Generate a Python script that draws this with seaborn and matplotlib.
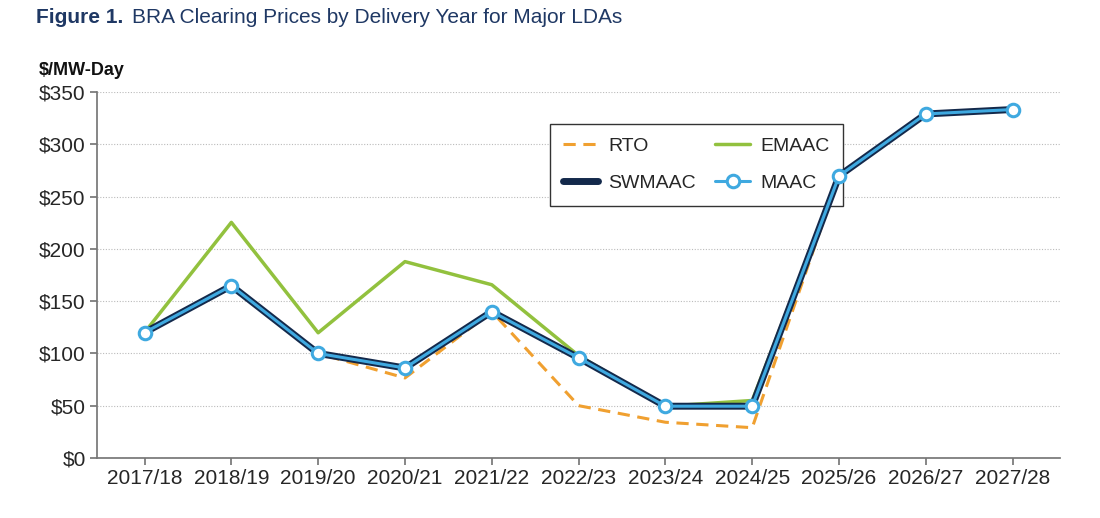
import numpy as np
import pandas as pd
import seaborn as sns
import matplotlib.pyplot as plt

years = ["2017/18", "2018/19", "2019/20", "2020/21", "2021/22", "2022/23",
         "2023/24", "2024/25", "2025/26", "2026/27", "2027/28"]
rto = [120.00, 164.77, 100.00, 76.53, 140.00, 50.00, 34.13, 28.92, 269.92, 329.17, 333.44]
emaac = [120.00, 225.42, 119.77, 187.87, 165.73, 97.86, 49.49, 54.95, 269.92, 329.17, 333.44]
swmaac = [120.00, 164.77, 100.00, 86.04, 140.00, 95.79, 49.49, 49.49, 269.92, 329.17, 333.44]
maac = [120.00, 164.77, 100.00, 86.04, 140.00, 95.79, 49.49, 49.49, 269.92, 329.17, 333.44]

sns.set_theme(style="white")
plt.rcParams['font.family'] = ['Liberation Sans Narrow', 'Liberation Sans', 'DejaVu Sans']

df = pd.DataFrame({"year": years, "RTO": rto, "EMAAC": emaac, "SWMAAC": swmaac, "MAAC": maac})
x = np.arange(len(years))
df["x"] = x

fig = plt.figure(figsize=(11, 5.18), dpi=100)
ax = fig.add_axes([0.088, 0.116, 0.876, 0.706])

sns.lineplot(data=df, x="x", y="RTO", ax=ax, color="#f0a030", lw=2.2, label="RTO")
ax.lines[-1].set_dashes([4, 2.5])
sns.lineplot(data=df, x="x", y="EMAAC", ax=ax, color="#92c13e", lw=2.5, label="EMAAC")
sns.lineplot(data=df, x="x", y="SWMAAC", ax=ax, color="#13294b", lw=5, label="SWMAAC")
sns.lineplot(data=df, x="x", y="MAAC", ax=ax, color="#3fa9e0", lw=2.2, marker="o",
             markersize=9, markerfacecolor="white", markeredgecolor="#3fa9e0",
             markeredgewidth=2.2, label="MAAC")

ax.set_xlim(-0.55, len(years) - 0.45)
ax.set_ylim(0, 350)
ax.set_yticks(range(0, 351, 50))
ax.set_yticklabels([f"${v}" for v in range(0, 351, 50)], fontsize=15)
ax.set_xticks(x)
ax.set_xticklabels(years, fontsize=15)
ax.set_xlabel("")
ax.set_ylabel("")
ax.yaxis.grid(True, linestyle=(0, (1, 1.5)), color="#bbbbbb", lw=0.8)
for s in ["top", "right"]:
    ax.spines[s].set_visible(False)
for s in ["left", "bottom"]:
    ax.spines[s].set_color("#777777")
ax.tick_params(axis="both", which="both", length=5, color="#777777", direction="out",
               left=True, bottom=True, pad=3)

# legend rows: RTO / EMAAC, SWMAAC / MAAC (matplotlib fills column-wise)
h, l = ax.get_legend_handles_labels()
order = [l.index(n) for n in ["RTO", "SWMAAC", "EMAAC", "MAAC"]]
leg = ax.legend([h[i] for i in order], [l[i] for i in order], loc="upper left",
                bbox_to_anchor=(0.46, 0.94), ncol=2, fontsize=14,
                frameon=True, fancybox=False, edgecolor="#333333", handlelength=1.8,
                handletextpad=0.5, columnspacing=1.0, labelspacing=1.0, borderpad=0.7,
                framealpha=1)
leg.get_frame().set_linewidth(1)
leg.set_zorder(1)

fig.text(0.033, 0.955, "Figure 1.", fontsize=15, fontweight="bold", color="#1f3864")
fig.text(0.12, 0.955, "BRA Clearing Prices by Delivery Year for Major LDAs", fontsize=15, color="#1f3864")
fig.text(0.035, 0.855, "$/MW-Day", fontsize=13, fontweight="bold", color="#111111")

fig.savefig("out.png", dpi=100)
